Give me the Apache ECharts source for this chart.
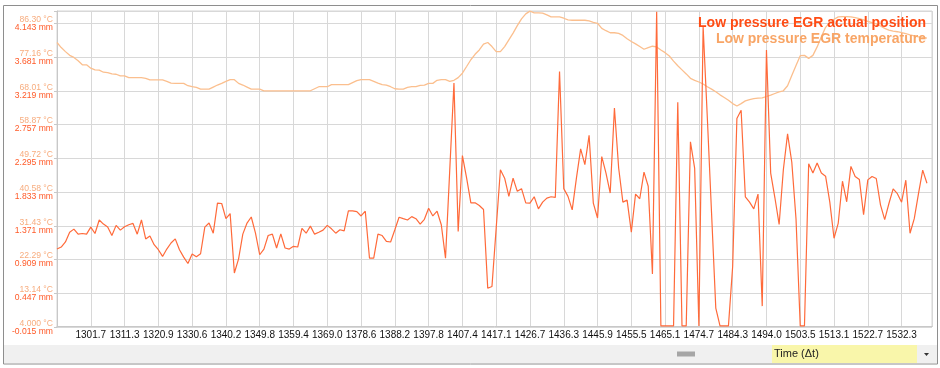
<!DOCTYPE html>
<html><head><meta charset="utf-8">
<script src="https://cdn.jsdelivr.net/npm/echarts@6/dist/echarts.min.js"></script>
<style>html,body{margin:0;padding:0;background:#fff}#c{width:940px;height:368px}</style>
</head><body><div id="c"></div>
<script>
// Time labels shown every 8 samples (sample 8, 16, ... 200)
const timeTicks = ['1301.7','1311.3','1320.9','1330.6','1340.2','1349.8','1359.4','1369.0','1378.6','1388.2','1397.8','1407.4','1417.1','1426.7','1436.3','1445.9','1455.5','1465.1','1474.7','1484.3','1494.0','1503.5','1513.1','1522.7','1532.3'];

const seriesNames = ['Low pressure EGR actual position', 'Low pressure EGR temperature'];

// Low pressure EGR actual position (mm), one value per sample
const position = [
1.052,1.080,1.149,1.283,1.325,1.256,1.265,1.256,1.353,1.265,
1.450,1.394,1.353,1.237,1.376,1.311,1.357,1.385,1.403,1.256,
1.450,1.191,1.232,1.112,1.043,0.951,1.052,1.135,1.191,1.043,
0.941,0.854,0.983,0.946,0.988,1.353,1.408,1.269,1.681,1.676,
1.468,1.537,0.724,0.918,1.256,1.408,1.491,1.269,0.974,1.052,
1.237,1.256,1.066,1.260,1.066,1.052,1.089,1.080,1.334,1.269,
1.366,1.256,1.283,1.311,1.376,1.329,1.269,1.316,1.302,1.574,
1.574,1.565,1.505,1.570,0.927,0.927,1.256,1.237,1.158,1.149,
1.316,1.487,1.468,1.450,1.496,1.468,1.394,1.459,1.611,1.505,
1.570,1.385,0.927,2.129,3.325,1.292,2.332,2.022,1.685,1.685,
1.648,1.593,0.516,0.539,1.339,2.138,2.022,1.773,2.022,1.842,
1.879,1.685,1.681,1.768,1.602,1.694,1.750,1.768,1.759,3.482,
1.879,1.773,1.588,2.022,2.424,2.207,2.609,1.681,1.477,2.318,
2.092,1.819,2.983,2.161,1.694,1.722,1.283,1.805,1.741,2.106,
1.912,0.710,4.300,0,0,0,0,3.062,0,0,
2.521,2.156,0,4.097,2.845,1.542,0.244,0,0,0,
0.817,2.840,2.951,1.768,1.694,1.602,1.805,0.271,3.778,2.092,
1.754,1.389,2.138,2.628,2.240,1.463,0,0,2.221,2.092,
2.230,2.092,2.050,1.694,1.200,1.408,1.981,1.699,2.184,2.046,
2.004,1.523,1.999,2.046,2.018,1.657,1.454,1.676,1.875,1.810,
1.694,1.995,1.269,1.468,1.810,2.133,1.953
];

// Low pressure EGR temperature (°C), one value per sample
const temperature = [
81.09,79.72,78.62,77.61,77.06,76.15,75.05,75.05,74.14,73.68,
73.59,73.04,72.95,72.58,72.49,72.03,72.03,71.58,71.58,71.58,
71.58,71.39,70.94,70.94,70.94,70.94,70.57,70.11,70.02,70.02,
70.02,69.38,69.11,68.93,68.47,68.47,68.47,69.02,69.57,70.02,
70.57,71.03,71.03,70.02,69.57,69.02,68.47,68.47,68.47,68.01,
68.01,68.01,68.01,68.01,68.01,68.01,68.01,68.01,68.01,68.01,
68.01,68.56,69.11,69.11,69.11,69.66,69.66,69.66,69.66,69.66,
70.21,70.75,71.03,71.03,71.03,70.57,70.11,69.66,69.57,69.11,
68.56,68.47,68.47,68.93,69.11,69.11,69.47,69.57,70.02,70.02,
70.85,71.03,71.03,70.57,70.85,71.58,72.77,74.59,76.42,77.89,
79.07,80.63,81.09,79.99,78.62,78.62,79.99,81.82,83.65,85.66,
87.49,88.86,89.59,89.13,89.13,89.04,88.59,88.04,88.04,88.04,
87.67,87.21,87.12,87.12,87.12,87.12,86.94,86.57,86.30,84.93,
84.29,83.74,83.74,83.56,83.01,82.09,81.36,80.72,79.99,79.26,
79.72,80.08,79.90,79.07,78.34,77.43,76.06,74.78,73.68,72.58,
71.39,70.85,70.39,69.84,69.11,68.47,67.74,66.91,66.18,65.45,
64.54,63.90,64.54,65.27,65.63,65.91,66.00,66.09,66.46,66.82,
67.28,67.74,68.01,69.38,72.12,74.87,77.52,77.61,76.79,77.61,
79.90,82.64,85.20,86.48,87.40,88.04,88.13,88.13,88.04,87.85,
87.58,87.21,86.85,86.48,86.12,85.57,84.93,84.47,84.20,84.01,
83.74,83.47,83.19,82.92,82.64,82.46,82.28
];

// Axis scales (both axes share the same number of steps so grid lines align)
const mmMin = -0.015, mmStep = 0.462, mmMax = 4.311;
const tMin = 4.0, tStep = 82.3 / 9, tMax = 89.63;
const samplesPerTick = 8, lastSample = 207.2;

const FONT = '"Liberation Sans", Arial, sans-serif';
const COL_POS = '#ff6a3a', COL_TEMP = '#fbbf8e';
const COL_POS_TXT = '#ff4c14', COL_TEMP_TXT = '#f8a566';

function stepIndex(v, min, step, max) {
  const k = (v - min) / step;
  const r = Math.round(k);
  return (Math.abs(k - r) < 1e-4 && v < max - step * 0.1) ? r : -1;
}

const chart = echarts.init(document.getElementById('c'), null, {renderer: 'canvas'});
chart.setOption({
  animation: false,
  backgroundColor: '#fff',
  textStyle: {fontFamily: FONT},
  grid: {left: 57, right: 8, top: 11, bottom: 41, show: true, borderColor: '#d4d4d4', borderWidth: 1},
  legend: [
    {data: [seriesNames[0]], right: 9, top: 16, icon: 'rect', itemWidth: 0, itemHeight: 0, align: 'right',
     selectedMode: false, padding: 0,
     textStyle: {color: COL_POS_TXT, fontSize: 14, fontWeight: 'bold', fontFamily: FONT}},
    {data: [seriesNames[1]], right: 9, top: 32, icon: 'rect', itemWidth: 0, itemHeight: 0, align: 'right',
     selectedMode: false, padding: 0,
     textStyle: {color: COL_TEMP_TXT, fontSize: 14, fontWeight: 'bold', fontFamily: FONT}}
  ],
  xAxis: {
    type: 'value', min: 0, max: lastSample, interval: samplesPerTick,
    axisLine: {show: true, lineStyle: {color: '#c8c8c8'}},
    axisTick: {show: false},
    splitLine: {show: true, lineStyle: {color: '#d8d8d8', width: 1}},
    axisLabel: {
      margin: 3, fontSize: 10, color: '#111', fontFamily: FONT,
      formatter: v => {
        const k = Math.round(v / samplesPerTick);
        if (Math.abs(v - k * samplesPerTick) > 1e-6 || k < 1 || k > timeTicks.length) return '';
        return timeTicks[k - 1];
      }
    }
  },
  yAxis: [
    {
      type: 'value', position: 'left', min: mmMin, max: mmMax, interval: mmStep,
      axisLine: {show: true, lineStyle: {color: '#c8c8c8'}},
      axisTick: {show: true, length: 3, lineStyle: {color: '#c8c8c8'}},
      splitLine: {show: true, lineStyle: {color: '#d8d8d8', width: 1}},
      axisLabel: {
        margin: 4, fontFamily: FONT, align: 'right',
        formatter: v => {
          const k = stepIndex(v, mmMin, mmStep, mmMax);
          if (k < 0) return '';
          const t = tMin + k * tStep;
          return '{t|' + t.toPrecision(4) + ' °C}\n{m|' + v.toFixed(3) + ' mm}';
        },
        rich: {
          t: {fontSize: 8.6, color: '#f7ac7e', fontFamily: FONT, lineHeight: 8, align: 'right', padding: [1, 0, 0, 0]},
          m: {fontSize: 8.6, color: '#ff5a28', fontFamily: FONT, lineHeight: 8, align: 'right', padding: [1, 0, 0, 0]}
        }
      }
    },
    {
      type: 'value', position: 'left', min: tMin, max: tMax, interval: tStep,
      axisLine: {show: false}, axisTick: {show: false}, splitLine: {show: false},
      axisLabel: {show: false}
    }
  ],
  series: [
    {
      name: seriesNames[1], type: 'line', yAxisIndex: 1, showSymbol: false, symbol: 'none',
      lineStyle: {color: COL_TEMP, width: 1.3}, itemStyle: {color: COL_TEMP},
      data: temperature.map((v, i) => [i, v]), z: 2
    },
    {
      name: seriesNames[0], type: 'line', yAxisIndex: 0, showSymbol: false, symbol: 'none',
      lineStyle: {color: COL_POS, width: 1.2}, itemStyle: {color: COL_POS},
      data: position.map((v, i) => [i, v]), z: 3
    }
  ],
  graphic: [
    {type: 'rect', silent: true, z: -1, shape: {x: 3.5, y: 5.5, width: 934, height: 358.5},
     style: {fill: 'none', stroke: '#8e8e8e', lineWidth: 1}},
    {type: 'rect', silent: true, shape: {x: 4, y: 345, width: 933, height: 18}, style: {fill: '#f0f0f0'}},
    {type: 'rect', silent: true, shape: {x: 772, y: 345, width: 145, height: 18}, style: {fill: '#f9f6aa'}},
    {type: 'text', silent: true, x: 774, y: 354,
     style: {text: 'Time (Δt)', fontSize: 11, fontFamily: FONT, fill: '#222', verticalAlign: 'middle', align: 'left'}},
    {type: 'rect', silent: true, shape: {x: 677, y: 351.5, width: 18, height: 5}, style: {fill: '#a6a6a6'}},
    {type: 'polygon', silent: true, shape: {points: [[924, 353], [929, 353], [926.5, 356]]}, style: {fill: '#333'}}
  ]
});
</script>
</body></html>
